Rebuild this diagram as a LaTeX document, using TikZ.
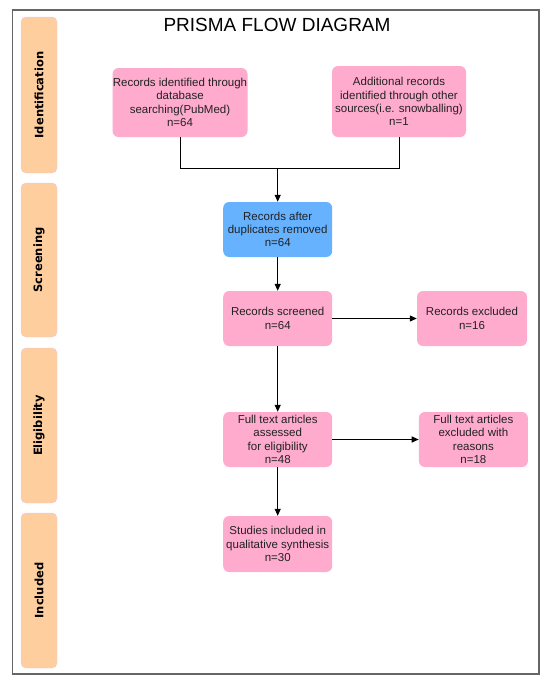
\documentclass[tikz,border=0pt]{standalone}
\usepackage{fontspec}
\setmainfont{Liberation Sans}
\newfontfamily\phasefont{DejaVu Sans}
\usetikzlibrary{arrows.meta}

\definecolor{boxpink}{HTML}{FFABCD}
\definecolor{boxblue}{HTML}{66B2FF}
\definecolor{phaseorange}{HTML}{FFCE9F}
\definecolor{phaseedge}{HTML}{E6C8E6}
\definecolor{framegray}{HTML}{666666}
\definecolor{boxtext}{HTML}{222222}

\begin{document}
\begin{tikzpicture}[x=1pt, y=-1pt]
\tikzset{BoxStyle/.style = {fill=boxpink, rounded corners=6pt, align=center, inner sep=0pt,
        text=boxtext, font=\fontsize{11.5}{13.3}\selectfont, minimum width=109pt, minimum height=55pt},
    PhaseStyle/.style = {draw=phaseedge, fill=phaseorange, rounded corners=5pt, rotate=90,
        minimum width=155pt, minimum height=36pt, inner sep=0pt,
        font=\phasefont\bfseries\fontsize{11.5}{13}\selectfont},
    FlowArrow/.style = {-{Triangle[length=7pt, width=6pt]}, line width=1pt},
    FlowLine/.style = {line width=1pt}
}
    \useasboundingbox (0,0) rectangle (550,683);

    % Outer frame
    \draw [framegray, line width=1.3pt] (12.5,10) rectangle (539,674);

    % Phases
    \node[PhaseStyle, minimum width=156pt] (ident)  at (39,95)    {Identification};
    \node[PhaseStyle, minimum width=154pt] (screen) at (39,260)   {Screening};
    \node[PhaseStyle] (elig)   at (39,425.5) {Eligibility};
    \node[PhaseStyle] (incl)   at (39,590.5) {Included};

    \node[font=\fontsize{19}{21}\selectfont] (title) at (277,25) {PRISMA FLOW DIAGRAM};

    % Boxes
    \node[BoxStyle, minimum width=135pt, minimum height=69pt] (dbrec) at (180,102.5)
        {Records identified through\\database\\searching(PubMed)\\n=64};
    \node[BoxStyle, minimum width=134pt, minimum height=71pt] (otherrec) at (399,101.5)
        {Additional records\\identified through other\\sources(i.e. snowballing)\\n=1};
    \node[BoxStyle, fill=boxblue] (dedup) at (277.7,229.5)
        {Records after\\duplicates removed\\n=64};
    \node[BoxStyle] (screened) at (277.7,318.5) {Records screened\\n=64};
    \node[BoxStyle, minimum width=110pt] (excluded) at (472,318.5) {Records excluded\\n=16};
    \node[BoxStyle] (fulltext) at (277.7,439.5)
        {Full text articles\\assessed\\for eligibility\\n=48};
    \node[BoxStyle] (ftexcl) at (473.4,439.5)
        {Full text articles\\excluded with\\reasons\\n=18};
    \node[BoxStyle, minimum height=56pt] (studies) at (277.7,544)
        {Studies included in\\qualitative synthesis\\n=30};

    % Connectors
    \coordinate (merge) at (277.7,168.5);
    \draw [FlowLine] (dbrec.south) |- (merge);
    \draw [FlowLine] (otherrec.south) |- (merge);
    \draw [FlowArrow] (merge) -- (dedup.north);
    \draw [FlowArrow] (dedup) -- (screened);
    \draw [FlowArrow] (screened) -- (excluded);
    \draw [FlowArrow] (screened) -- (fulltext);
    \draw [FlowArrow] (fulltext) -- (ftexcl);
    \draw [FlowArrow] (fulltext) -- (studies);
\end{tikzpicture}
\end{document}
